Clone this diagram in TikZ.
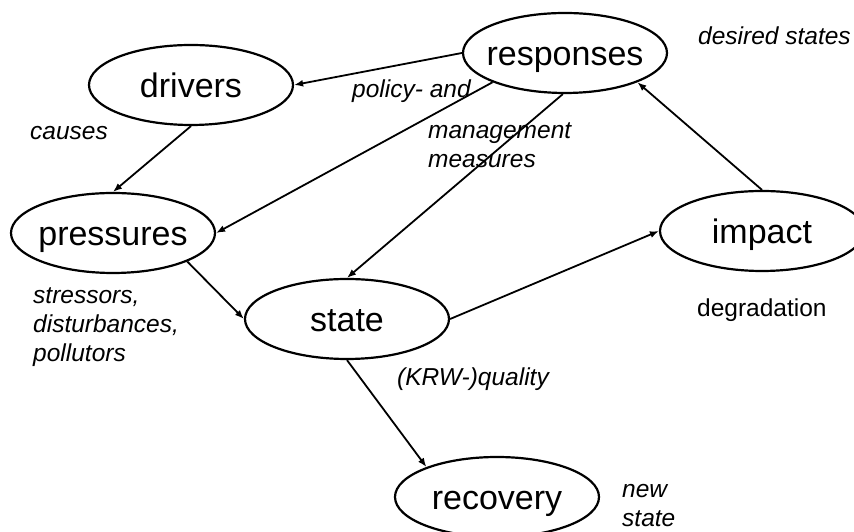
\documentclass[tikz,border=0pt]{standalone}
\usepackage{fontspec}
\setmainfont{Liberation Sans}
\usetikzlibrary{shapes,arrows.meta,positioning}

\begin{document}
\begin{tikzpicture}[
    x=1pt, y=1pt,
    stage/.style={ellipse, draw=black, line width=2.2pt, minimum width=204pt, minimum height=80pt, inner xsep=-20pt, inner ysep=0pt, text height=31pt, text depth=6pt, font=\fontsize{34}{40}\selectfont},
    note/.style={anchor=base west, inner sep=0pt, align=left, font=\fontsize{24.5}{29}\selectfont\itshape},
    link/.style={-{Latex[length=9pt,width=7pt]}, line width=1.8pt},
]
    \useasboundingbox (0,0) rectangle (854,532);

    % Stages
    \node[stage] (responses) at (565,479) {responses};
    \node[stage] (drivers) at (191,447) {drivers};
    \node[stage] (pressures) at (113,299) {pressures};
    \node[stage] (impact) at (762,301) {impact};
    \node[stage] (state) at (347,213) {state};
    \node[stage] (recovery) at (497,35) {recovery};

    % Notes (base = last line)
    \node[note] (desired) at (698,487) {desired states};
    \node[note] (policy) at (352,434) {policy- and};
    \node[note] (causes) at (30,392) {causes};
    \node[note] (measures) at (428,364) {management\\measures};
    \node[note] (stressors) at (33,170) {stressors,\\disturbances,\\pollutors};
    \node[note, font=\fontsize{24.5}{29}\selectfont] (degradation) at (697,215) {degradation};
    \node[note] (quality) at (397,146) {(KRW-)quality};
    \node[note] (newstate) at (622,5) {new\\state};

    % Connections
    \draw[link] (responses.west) -- (drivers.east);
    \draw[link] (responses.202) -- (pressures.east);
    \draw[link] (responses.267) -- (state.north);
    \draw[link] (drivers.south) -- (pressures.north);
    \draw[link] (pressures.339) -- (state.west);
    \draw[link] (state.east) -- (impact.west);
    \draw[link] (impact.north) -- (responses.338);
    \draw[link] (state.south) -- (recovery.157);
\end{tikzpicture}
\end{document}
